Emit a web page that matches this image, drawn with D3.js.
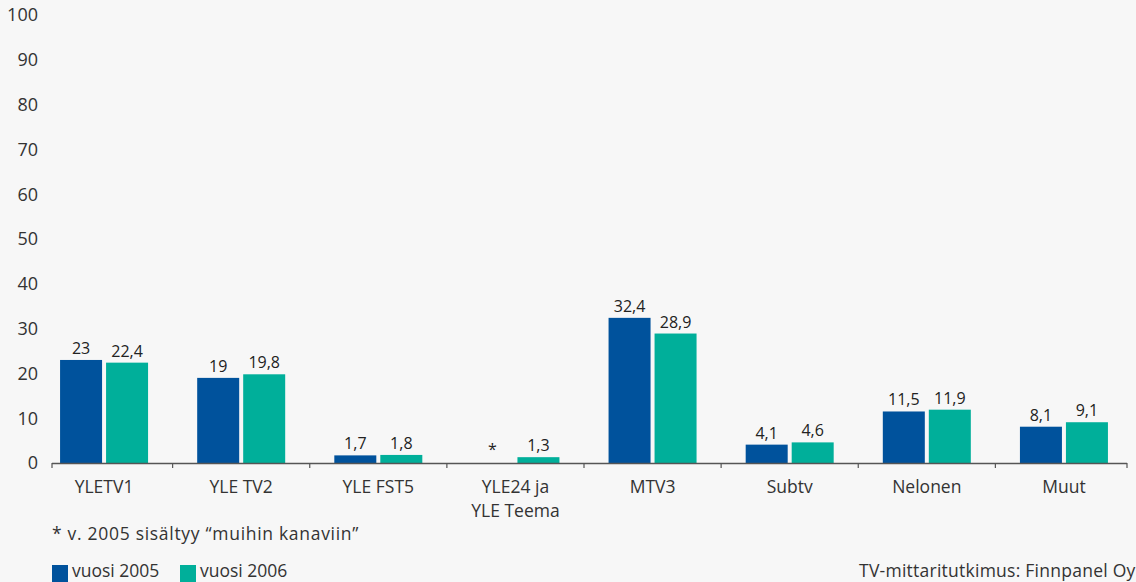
<!DOCTYPE html>
<html>
<head>
<meta charset="utf-8">
<script src="https://cdn.jsdelivr.net/npm/d3@7"></script>
<style>
  html, body { margin: 0; padding: 0; background: #f7f7f7; overflow: hidden; }
  svg { display: block; font-family: "Open Sans", "Noto Sans", sans-serif; }
</style>
</head>
<body>
<svg id="kuva" width="1136" height="582"></svg>
<script>
const kanavat = ["YLETV1", "YLE TV2", "YLE FST5", "YLE24 ja\nYLE Teema", "MTV3", "Subtv", "Nelonen", "Muut"];
const vuosi2005 = [23, 19, 1.7, null, 32.4, 4.1, 11.5, 8.1];
const vuosi2006 = [22.4, 19.8, 1.8, 1.3, 28.9, 4.6, 11.9, 9.1];
const sarjat = ["vuosi 2005", "vuosi 2006"];
const yTicks = [0, 10, 20, 30, 40, 50, 60, 70, 80, 90, 100];

const varit = ["#00529c", "#00af9a"];

const svg = d3.select("#kuva");

const x = d3.scaleBand()
    .domain(kanavat)
    .range([35.5, 1132.5])
    .padding(0);

// kaksi 42 px pylvästä, väli 4 px
const xSisa = d3.scaleBand()
    .domain(sarjat)
    .range([x.bandwidth() / 2 - 44, x.bandwidth() / 2 + 44])
    .paddingInner(4 / 46)
    .paddingOuter(0);

const y = d3.scaleLinear()
    .domain([0, 100])
    .range([463, 15]);

// y-akselin luvut
svg.append("g")
    .selectAll("text")
    .data(yTicks)
    .enter()
    .append("text")
    .attr("x", 38)
    .attr("y", d => y(d))
    .attr("dy", "0.35em")
    .attr("text-anchor", "end")
    .style("font-size", "18px")
    .style("fill", "#333")
    .text(d => d);

// pylväät
const ryhmat = svg.append("g")
    .selectAll("g")
    .data(kanavat.map((k, i) => ({ kanava: k, arvot: [vuosi2005[i], vuosi2006[i]] })))
    .enter()
    .append("g")
    .attr("transform", d => `translate(${x(d.kanava)},0)`);

ryhmat.selectAll("rect")
    .data(d => d.arvot.map((v, j) => ({ sarja: sarjat[j], arvo: v, j: j })))
    .enter()
    .filter(d => d.arvo !== null)
    .append("rect")
    .attr("x", d => xSisa(d.sarja))
    .attr("y", d => y(d.arvo))
    .attr("width", xSisa.bandwidth())
    .attr("height", d => y(0) - y(d.arvo))
    .attr("fill", d => varit[d.j]);

ryhmat.selectAll("text.arvo")
    .data(d => d.arvot.map((v, j) => ({ sarja: sarjat[j], arvo: v })))
    .enter()
    .append("text")
    .attr("class", "arvo")
    .attr("x", d => xSisa(d.sarja) + xSisa.bandwidth() / 2)
    .attr("y", d => d.arvo === null ? y(0) - 8 : y(d.arvo) - 6)
    .attr("text-anchor", "middle")
    .style("font-size", "16px")
    .style("font-weight", "500")
    .style("fill", "#222")
    .text(d => d.arvo === null ? "*" : String(d.arvo).replace(".", ","));

// x-akseli
const akseli = svg.append("g");

akseli.append("line")
    .attr("x1", 52)
    .attr("x2", 1127)
    .attr("y1", y(0) + 0.5)
    .attr("y2", y(0) + 0.5)
    .attr("stroke", "#555")
    .attr("stroke-width", 1.5);

const rajat = [52].concat(kanavat.slice(1).map(k => x(k)), [1127]);

akseli.selectAll("line.tick")
    .data(rajat)
    .enter()
    .append("line")
    .attr("class", "tick")
    .attr("x1", d => d)
    .attr("x2", d => d)
    .attr("y1", y(0))
    .attr("y2", y(0) + 5)
    .attr("stroke", "#555")
    .attr("stroke-width", 1.2);

akseli.selectAll("text.kanava")
    .data(kanavat)
    .enter()
    .append("text")
    .attr("class", "kanava")
    .attr("x", d => x(d) + x.bandwidth() / 2)
    .attr("y", 493)
    .attr("text-anchor", "middle")
    .style("font-size", "17.5px")
    .style("fill", "#333")
    .each(function(d) {
        const rivit = d.split("\n");
        rivit.forEach((r, i) => {
            d3.select(this).append("tspan")
                .attr("x", x(d) + x.bandwidth() / 2)
                .attr("dy", i === 0 ? 0 : 24)
                .text(r);
        });
    });

// alaviite
svg.append("text")
    .attr("x", 52)
    .attr("y", 540)
    .style("font-size", "17.5px")
    .style("letter-spacing", "0.7px")
    .style("fill", "#333")
    .text("* v. 2005 sisältyy \u201Cmuihin kanaviin\u201D");

// selite
const selite = [
    { nimi: "vuosi 2005", vari: varit[0], x: 52 },
    { nimi: "vuosi 2006", vari: varit[1], x: 180 }
];

selite.forEach(item => {
    svg.append("rect")
        .attr("x", item.x)
        .attr("y", 565)
        .attr("width", 16)
        .attr("height", 17)
        .attr("fill", item.vari);

    svg.append("text")
        .attr("x", item.x + 20)
        .attr("y", 577)
        .style("font-size", "17.5px")
        .style("fill", "#333")
        .text(item.nimi);
});

svg.append("text")
    .attr("x", 859)
    .attr("y", 577)
    .style("font-size", "17.5px")
    .style("letter-spacing", "0.25px")
    .style("fill", "#333")
    .text("TV-mittaritutkimus: Finnpanel Oy");
</script>
</body>
</html>
